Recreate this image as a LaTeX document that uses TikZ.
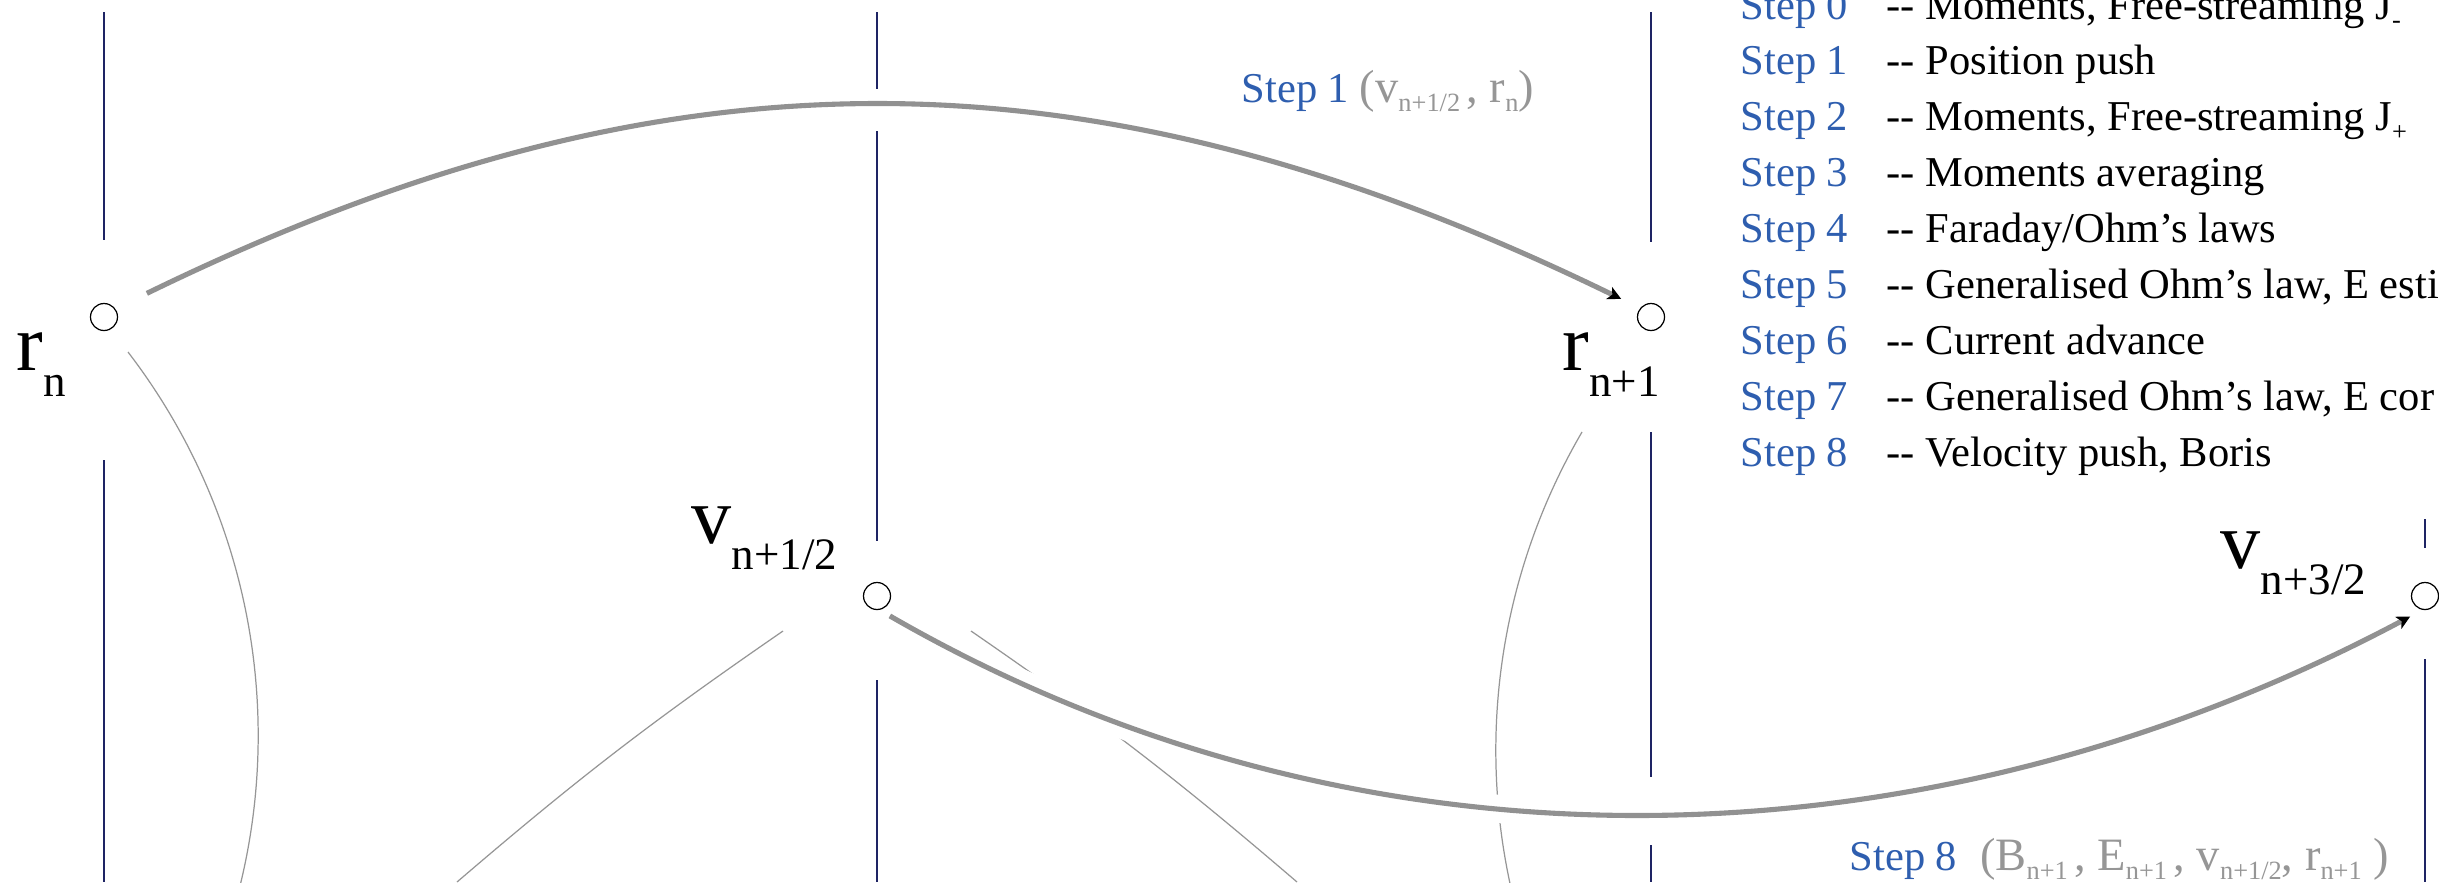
\documentclass[tikz,border=0pt]{standalone}
\usepackage{fontspec}
\setmainfont{Liberation Serif}
\usetikzlibrary{arrows.meta}

\definecolor{gridnavy}{RGB}{30,36,100}
\definecolor{arcgray}{RGB}{145,145,145}
\definecolor{thingray}{RGB}{150,150,150}
\definecolor{stepblue}{RGB}{46,94,175}
\definecolor{txtgray}{RGB}{150,150,150}

% subscript, big label, grey argument list
\newcommand{\sbs}[1]{\raisebox{-2.8pt}{\fontsize{7.5}{8}\selectfont #1}}
\newcommand{\bl}[2]{{\fontsize{22.8}{24}\selectfont #1}\raisebox{-7.4pt}{\fontsize{12.8}{14}\selectfont #2}}
\newcommand{\gr}[1]{\textcolor{txtgray}{\fontsize{13.2}{15}\selectfont #1}}

\begin{document}
\begin{tikzpicture}[
		ci/.style = {circle, draw=black, line width=0.35pt, fill=white, minimum size=0.27cm, inner sep=0pt},
		lb/.style = {inner sep=0pt, anchor=base west, font=\fontsize{12.1}{14}\selectfont},
		ar/.style = {draw=arcgray, line width=1.45pt, -{Stealth[length=3.8pt, width=3.8pt, inset=1pt, color=black]},
			preaction={draw=white, line width=8pt, -}},
		dp/.style = {draw=thingray, line width=0.35pt},
		vl/.style = {draw=gridnavy, line width=0.35pt},
		]
		\useasboundingbox (0,0) rectangle (24.39,8.82);
		\clip (0,0) rectangle (24.39,8.82);
		
		%Time lines
		\foreach \x/\a/\b in {1.04/8.70/6.42, 1.04/4.22/0, 8.77/8.70/7.93, 8.77/7.51/3.41, 8.77/2.02/0,
			16.51/8.70/6.40, 16.51/4.50/1.05, 16.51/0.37/0, 24.25/3.63/3.34, 24.25/2.23/0}
			\draw[vl] (\x,\a) -- (\x,\b);
		
		%Dependencies
		\coordinate (d1) at (1.28,5.30);
		\coordinate (d4) at (15.82,4.50);
		\coordinate (d2a) at (7.83,2.51);
		\coordinate (d2b) at (4.57,0);
		\coordinate (d3a) at (9.71,2.51);
		\coordinate (d3b) at (12.97,0);
		\draw[dp]	(d1) arc[start angle=37.5, end angle=-25, radius=6.30];
		\draw[dp]	(d4) arc[start angle=149.7, end angle=205, radius=6.31];
		\draw[dp]	(d2a) to[bend right=3] (d2b);
		\draw[dp]	(d3a) to[bend left=3] (d3b);
		
		%Nodes
		\node[ci]	(rn)	at	(1.04, 5.65)	{};
		\node[ci]	(rnp)	at	(16.51, 5.65)	{};
		\node[ci]	(vh)	at	(8.77, 2.86)	{};
		\node[ci]	(vt)	at	(24.25, 2.86)	{};
		\node[lb]	(lrn)	at	(0.16, 5.12)	{\bl{r}{n}};
		\node[lb]	(lrnp)	at	(15.62, 5.12)	{\bl{r}{n+1}};
		\node[lb]	(lvh)	at	(6.91, 3.39)	{\bl{v}{n+1/2}};
		\node[lb]	(lvt)	at	(22.20, 3.14)	{\bl{v}{n+3/2}};
		
		%Step list
		\foreach \k/\txt in {0/{Moments, Free-streaming J\sbs{-}}, 1/{Position push},
			2/{Moments, Free-streaming J\sbs{+}}, 3/{Moments averaging}, 4/{Faraday/Ohm’s laws},
			5/{Generalised Ohm’s law, E esti}, 6/{Current advance},
			7/{Generalised Ohm’s law, E cor}, 8/{Velocity push, Boris}}{
			\node[lb, text=stepblue]	(s\k)	at	(17.40, {8.63-0.559*\k})	{Step \k};
			\node[lb]	(t\k)	at	(18.86, {8.63-0.559*\k})	{-{}- \txt};
		}
		
		%Pushes
		\draw[ar, shorten <=0.35cm, shorten >=0.21cm]	(rn.36)	to[out=26, in=154, looseness=1.03]	(rnp.141);
		\draw[ar, shorten <=0.12cm, shorten >=0.14cm]	(vh.-80)	to[out=-30, in=-152, looseness=0.93]	(vt.-100);
		\node[lb]	(l1)	at	(12.41, 7.80)	{\textcolor{stepblue}{Step 1} \gr{(v\sbs{n+1/2 }, r\sbs{n})}};
		\node[lb]	(l8)	at	(18.49, 0.12)	{\textcolor{stepblue}{Step 8}\hspace{0.54em}\gr{(B\sbs{n+1 }, E\sbs{n+1 }, v\sbs{n+1/2}, r\sbs{n+1} )}};
		
	\end{tikzpicture}
\end{document}
